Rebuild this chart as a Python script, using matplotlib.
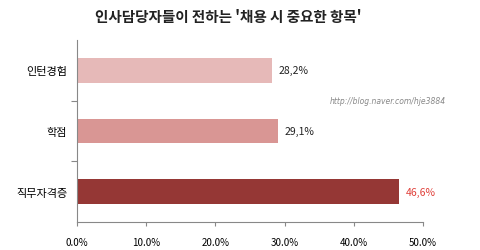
import matplotlib
matplotlib.use('Agg')
import matplotlib.pyplot as plt
import numpy as np

plt.rcParams['font.family'] = ['Noto Sans CJK KR', 'DejaVu Sans']

categories = ['인턴경험', '학점', '직무자격증']
values = [28.2, 29.1, 46.6]
value_labels = ['28,2%', '29,1%', '46,6%']
bar_colors = ['#e6b9b8', '#d99694', '#953735']
label_colors = ['#222222', '#222222', '#e0403a']
xticks = [0, 10, 20, 30, 40, 50]
xtick_labels = ['0.0%', '10.0%', '20.0%', '30.0%', '40.0%', '50.0%']

fig = plt.figure(figsize=(4.8, 2.51), dpi=100)
ax = fig.add_axes([77/480, 1 - 223/251, (423 - 77)/480, (223 - 41)/251])

y = np.arange(len(categories))
ax.barh(y, values, height=0.41, color=bar_colors)
ax.set_ylim(2.5, -0.5)
ax.set_xlim(0, 50)

for i, (v, lab) in enumerate(zip(values, value_labels)):
    ax.text(v + 0.9, i, lab, va='center', ha='left', fontsize=7.5,
            color=label_colors[i])

ax.set_yticks([0.5, 1.5])
ax.set_yticklabels([])
ax.set_yticks(y, minor=True)
ax.set_yticklabels(categories, minor=True, fontsize=8)
ax.tick_params(axis='y', which='minor', length=0, pad=7)
ax.tick_params(axis='y', which='major', length=4, color='#888888', direction='out')

ax.set_xticks(xticks)
ax.set_xticklabels(xtick_labels, fontsize=7)
ax.tick_params(axis='x', length=3, color='#888888', pad=8)

for s in ['top', 'right']:
    ax.spines[s].set_visible(False)
for s in ['left', 'bottom']:
    ax.spines[s].set_color('#888888')
    ax.spines[s].set_linewidth(0.8)

fig.text(228/480, 1 - 17/251, "인사담당자들이 전하는 '채용 시 중요한 항목'",
         ha='center', va='center', fontsize=10.5, fontweight='bold', color='#222222')
fig.text(388/480, 1 - 102/251, 'http://blog.naver.com/hje3884',
         ha='center', va='center', fontsize=5.5, style='italic', color='#888888',
         family='DejaVu Sans')

fig.savefig('out.png', dpi=100)
